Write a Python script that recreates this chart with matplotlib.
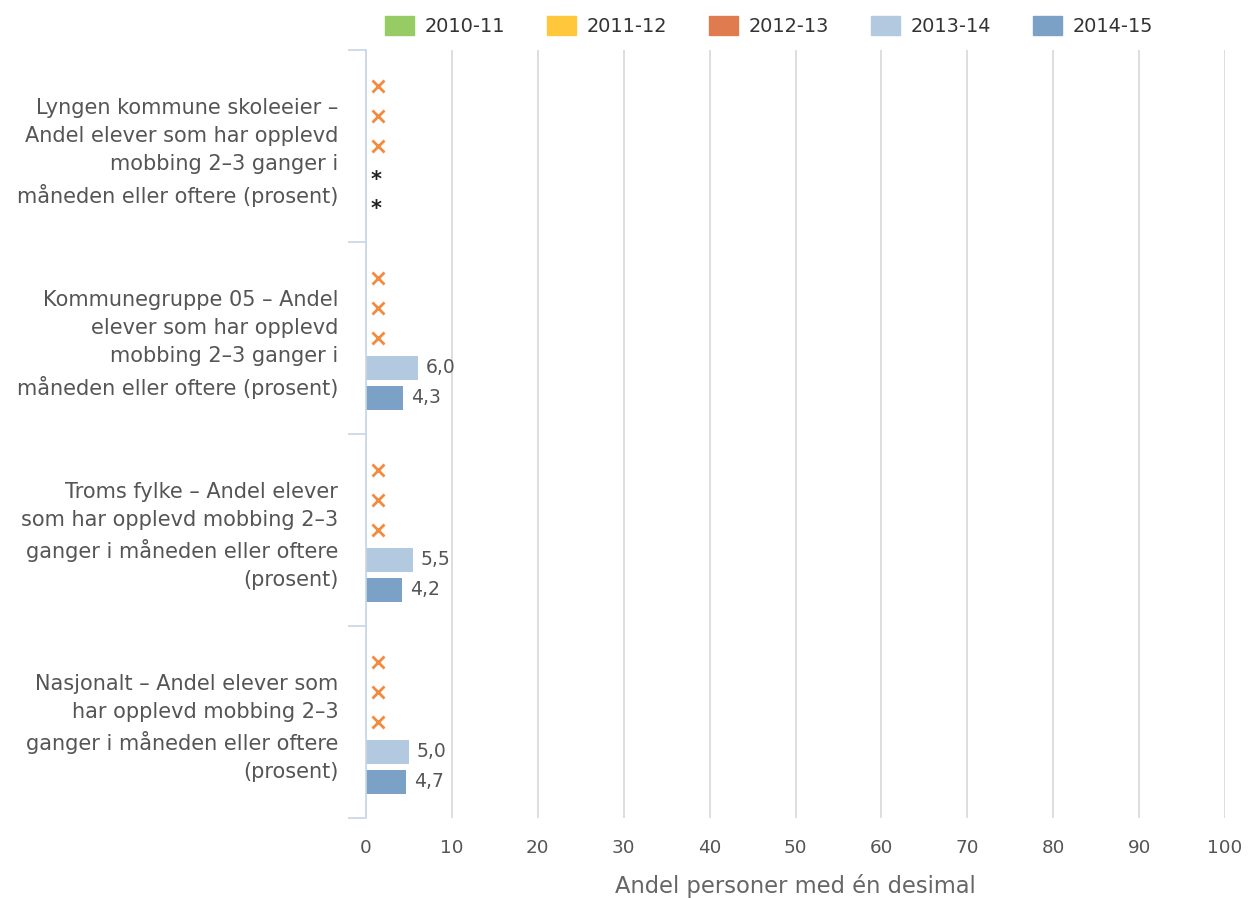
import numpy as np
import matplotlib.pyplot as plt

categories = [
    "Lyngen kommune skoleeier \u2013\nAndel elever som har opplevd\nmobbing 2\u20133 ganger i\nmåneden eller oftere (prosent)",
    "Kommunegruppe 05 \u2013 Andel\nelever som har opplevd\nmobbing 2\u20133 ganger i\nmåneden eller oftere (prosent)",
    "Troms fylke \u2013 Andel elever\nsom har opplevd mobbing 2\u20133\nganger i måneden eller oftere\n(prosent)",
    "Nasjonalt \u2013 Andel elever som\nhar opplevd mobbing 2\u20133\nganger i måneden eller oftere\n(prosent)",
]
seasons = ["2010-11", "2011-12", "2012-13", "2013-14", "2014-15"]
colors = ["#97cc64", "#ffc83c", "#e07b4f", "#b3c9df", "#7ba1c7"]

# None = no data (x), "*" = suppressed value
values = {
    "2010-11": [None, None, None, None],
    "2011-12": [None, None, None, None],
    "2012-13": [None, None, None, None],
    "2013-14": ["*", 6.0, 5.5, 5.0],
    "2014-15": ["*", 4.3, 4.2, 4.7],
}

plt.rcParams["font.family"] = "DejaVu Sans"
fig = plt.figure(figsize=(12.52, 8.98), dpi=100)
ax = fig.add_axes([366 / 1252, 1 - 818 / 898, (1225 - 366) / 1252, (818 - 50) / 898])

offsets = np.array([-0.31, -0.155, 0.0, 0.155, 0.31])
bar_h = 0.125
marker_x = 1.4

for j, s in enumerate(seasons):
    for i, v in enumerate(values[s]):
        y = i + offsets[j]
        if v is None:
            ax.scatter(marker_x, y, marker="x", s=75, color="#f28a40",
                       linewidths=2, zorder=3)
        elif v == "*":
            ax.text(marker_x - 0.2, y + 0.02, "*", ha="center", va="center",
                    fontsize=15, fontweight="bold", color="#222222", zorder=3)
        else:
            ax.barh(y, v, height=bar_h, color=colors[j], zorder=2)
            ax.text(v + 0.9, y, f"{v:.1f}".replace(".", ","), ha="left",
                    va="center", fontsize=13.5, color="#555555")

ax.set_xlim(0, 100)
ax.set_ylim(3.5, -0.5)
ax.set_xticks(np.arange(0, 101, 10))
ax.grid(axis="x", color="#d8d8d8", linewidth=1.2, zorder=0)
ax.tick_params(axis="x", length=0, pad=15, labelsize=13.2, labelcolor="#555555")

ax.set_yticks(range(len(categories)))
ax.set_yticklabels(categories, linespacing=1.5)
ax.tick_params(axis="y", which="major", length=0, pad=20, labelsize=15,
               labelcolor="#555555")
ax.set_yticks(np.arange(-0.5, 4, 1), minor=True)
ax.tick_params(axis="y", which="minor", length=13, color="#c8d6e6", width=1.2)

for sp in ["top", "right", "bottom"]:
    ax.spines[sp].set_visible(False)
ax.spines["left"].set_color("#c8d6e6")
ax.spines["left"].set_linewidth(1.2)

ax.set_xlabel("Andel personer med én desimal", fontsize=16.3, color="#666666",
              labelpad=12)

handles = [plt.Rectangle((0, 0), 1, 1, color=c) for c in colors]
fig.legend(handles, seasons, loc="center", bbox_to_anchor=(769 / 1252, 1 - 26 / 898),
           ncol=5, frameon=False, fontsize=13.9, handlelength=1.5,
           handleheight=1.14, handletextpad=0.52, columnspacing=2.2,
           labelcolor="#333333", borderpad=0)

fig.savefig("out.png", dpi=100)
